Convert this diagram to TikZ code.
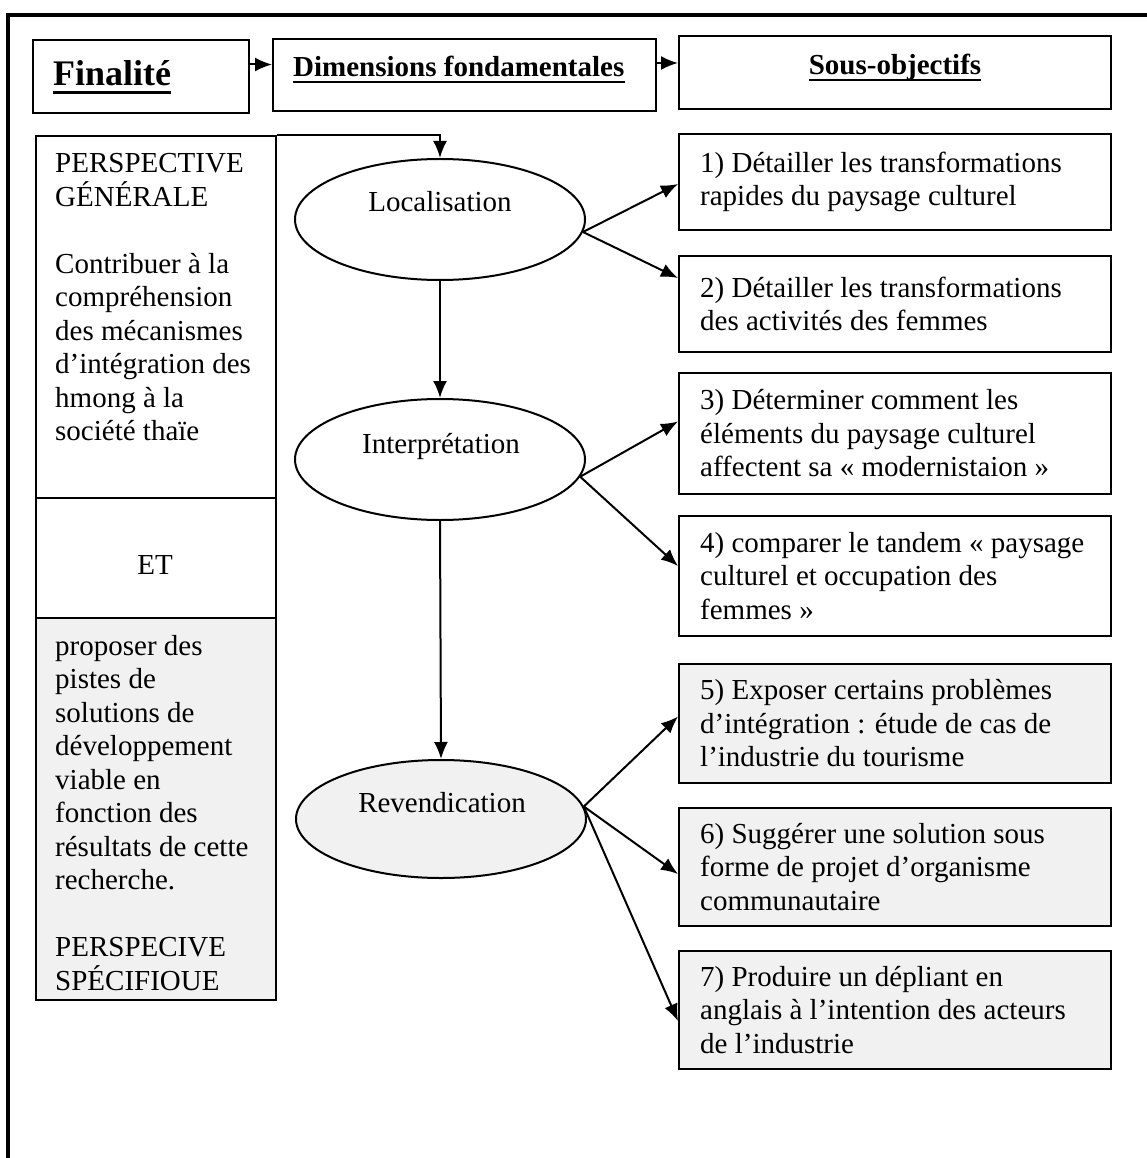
\documentclass[tikz,border=0pt]{standalone}
\usepackage{fontspec}
\setmainfont{Liberation Serif}
\usetikzlibrary{shapes.geometric,arrows.meta,calc}

\definecolor{shade}{RGB}{241,241,241}
\newcommand\bodyfont{\fontsize{29}{33.5}\selectfont}
\newcommand\headfont{\fontsize{29}{33.5}\selectfont\bfseries}
\newcommand\bigheadfont{\fontsize{36}{40}\selectfont\bfseries}

\tikzset{
  frameline/.style={line width=4pt},
  box/.style={draw, line width=2pt, rectangle, inner sep=0pt, anchor=north west},
  greybox/.style={box, fill=shade},
  dimell/.style={draw, line width=2pt, ellipse, inner sep=0pt, minimum width=290pt, minimum height=121pt},
  body/.style={inner sep=0pt, font=\bodyfont, align=left},
  headtxt/.style={inner sep=0pt, font=\headfont},
  uline/.style={line width=2.5pt},
  arr/.style={line width=2pt, -{Latex[length=17pt,width=14pt]}},
}

\begin{document}
\begin{tikzpicture}[x=1pt,y=-1pt]
\useasboundingbox (0,0) rectangle (1147,1158);

% outer frame (top and left sides)
\draw[frameline] (8,1158) -- (8,15) -- (1147,15);

% header row
\node[box, minimum width=216pt, minimum height=73pt] (fin) at (32,39) {};
\node[box, minimum width=383pt, minimum height=72pt] (dim) at (272,38) {};
\node[box, minimum width=432pt, minimum height=73pt] (sous) at (678,35) {};

\node[inner sep=0pt, font=\bigheadfont, anchor=base west] (finT) at (53,86) {Finalité};
\node[headtxt, anchor=base west] (dimT) at (293,77) {Dimensions fondamentales};
\node[headtxt, anchor=base] (sousT) at (895,75) {Sous-objectifs};
\draw[line width=3pt] ([yshift=-7pt]finT.base west) -- ([yshift=-7pt]finT.base east);
\draw[uline] ([yshift=-5pt]dimT.base west) -- ([yshift=-5pt]dimT.base east);
\draw[uline] ([yshift=-5pt]sousT.base west) -- ([yshift=-5pt]sousT.base east);

\draw[arr] ([yshift=12pt]fin.east) -- ([yshift=12pt]fin.east -| dim.west);
\draw[arr] ([yshift=12pt]dim.east) -- ([yshift=12pt]dim.east -| sous.west);

% left column: purpose
\node[box, minimum width=240pt, minimum height=362pt] (gen) at (35,135) {};
\node[box, minimum width=240pt, minimum height=120pt] (et) at (35,497) {};
\node[greybox, minimum width=240pt, minimum height=382pt] (spec) at (35,617) {};

\node[inner sep=0pt, font=\bodyfont, anchor=base west] (genT) at (55,173)
  {\parbox[t]{215pt}{\raggedright PERSPECTIVE\\GÉNÉRALE\\[33.5pt]Contribuer à la\\compréhension\\des mécanismes\\d’intégration des\\hmong à la\\société thaïe}};
\node[body, anchor=base] (etT) at (155,574) {ET};
\node[inner sep=0pt, font=\bodyfont, anchor=base west] (specT) at (55,655)
  {\parbox[t]{215pt}{\raggedright proposer des\\pistes de\\solutions de\\développement\\viable en\\fonction des\\résultats de cette\\recherche.\\[33.5pt]PERSPECIVE\\SPÉCIFIOUE}};

% fundamental dimensions
\node[dimell] (loc) at (440,219.5) {};
\node[body, anchor=base] (locT) at (440,212) {Localisation};
\node[dimell] (int) at (440,459.5) {};
\node[body, anchor=base] (intT) at (441,453) {Interprétation};
\node[dimell, fill=shade, minimum height=118pt] (rev) at (441,819) {};
\node[body, anchor=base] (revT) at (442,812) {Revendication};

\draw[arr] (gen.north east) -| (loc.north);
\draw[arr] (loc.south) -- (int.north);
\draw[arr] (int.south) -- (rev.north);

% sub-objectives
\node[box, minimum width=432pt, minimum height=96pt] (b1) at (678,133) {};
\node[box, minimum width=432pt, minimum height=96pt] (b2) at (678,255) {};
\node[box, minimum width=432pt, minimum height=121pt] (b3) at (678,372) {};
\node[box, minimum width=432pt, minimum height=120pt] (b4) at (678,515) {};
\node[greybox, minimum width=432pt, minimum height=119pt] (b5) at (678,663) {};
\node[greybox, minimum width=432pt, minimum height=118pt] (b6) at (678,807) {};
\node[greybox, minimum width=432pt, minimum height=118pt] (b7) at (678,950) {};

\node[body, anchor=west] (t1) at ([xshift=22pt]b1.west) {1) Détailler les transformations\\rapides du paysage culturel};
\node[body, anchor=west] (t2) at ([xshift=22pt]b2.west) {2) Détailler les transformations\\des activités des femmes};
\node[body, anchor=west] (t3) at ([xshift=22pt]b3.west) {3) Déterminer comment les\\éléments du paysage culturel\\affectent sa « modernistaion »};
\node[body, anchor=west] (t4) at ([xshift=22pt]b4.west) {4) comparer le tandem « paysage\\culturel et occupation des\\femmes »};
\node[body, anchor=west] (t5) at ([xshift=22pt]b5.west) {5) Exposer certains problèmes\\d’intégration : étude de cas de\\l’industrie du tourisme};
\node[body, anchor=west] (t6) at ([xshift=22pt]b6.west) {6) Suggérer une solution sous\\forme de projet d’organisme\\communautaire};
\node[body, anchor=west] (t7) at ([xshift=22pt]b7.west) {7) Produire un dépliant en\\anglais à l’intention des acteurs\\de l’industrie};

\draw[arr] (loc.-5) -- ([yshift=-2pt]b1.west);
\draw[arr] (loc.-5) -- ([yshift=26pt]b2.west);
\draw[arr] (int.-7) -- ([yshift=12pt]b3.west);
\draw[arr] (int.-7) -- ([yshift=10pt]b4.west);
\draw[arr] (rev.5) -- ([yshift=7pt]b5.west);
\draw[arr] (rev.5) -- ([yshift=-7pt]b6.west);
\draw[arr] (rev.5) -- ([yshift=-11pt]b7.west);
\end{tikzpicture}
\end{document}
